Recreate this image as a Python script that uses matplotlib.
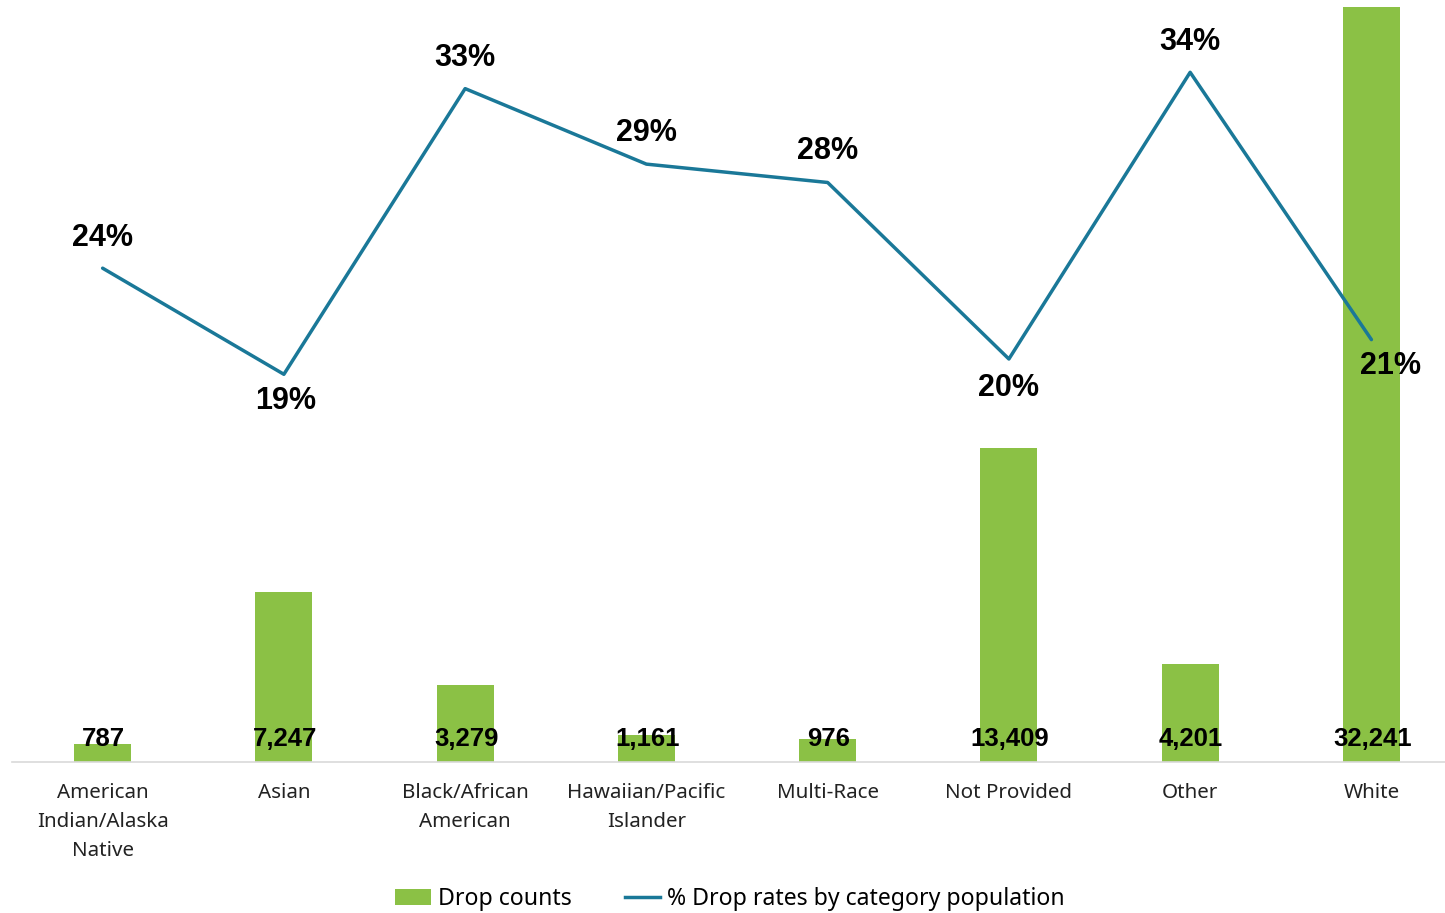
import matplotlib.pyplot as plt
from matplotlib.patches import Patch
from matplotlib.lines import Line2D

categories = ["American\nIndian/Alaska\nNative", "Asian", "Black/African\nAmerican",
              "Hawaiian/Pacific\nIslander", "Multi-Race", "Not Provided", "Other", "White"]
drop_counts = [787, 7247, 3279, 1161, 976, 13409, 4201, 32241]
drop_rates = [0.242, 0.190, 0.330, 0.293, 0.284, 0.1975, 0.338, 0.207]

GREEN = "#8BC145"
BLUE = "#1A7898"
W, H = 1445, 913

fig = plt.figure(figsize=(W / 100, H / 100), dpi=100)
ax = fig.add_axes([12 / W, (H - 762) / H, (W - 12) / W, (762 - 7) / H])
ax2 = ax.twinx()

x = list(range(len(categories)))
ax.bar(x, drop_counts, width=0.314, color=GREEN, zorder=2)
ax.set_xlim(-0.5, 7.406)
ax.set_ylim(0, 32241)
ax2.set_ylim(0, 0.37)

ax2.plot(x, drop_rates, color=BLUE, lw=2.5, solid_capstyle="round", zorder=3)

for s in ["top", "right", "left"]:
    ax.spines[s].set_visible(False)
    ax2.spines[s].set_visible(False)
ax2.spines["bottom"].set_visible(False)
ax.spines["bottom"].set_color("#D9D9D9")
ax.spines["bottom"].set_linewidth(1.2)
ax.set_yticks([])
ax2.set_yticks([])
ax.set_xticks(x)
ax.set_xticklabels(categories, fontsize=14.8, family="Noto Sans", color="#222222",
                   linespacing=1.62)
ax.tick_params(axis="x", length=0, pad=15)

for i, v in enumerate(drop_counts):
    ax.annotate(f"{v:,}", (i, 0), xytext=(1, 23), textcoords="offset pixels",
                ha="center", va="center", fontsize=18.5, fontweight="bold",
                family="Liberation Sans", color="black", zorder=4)

offsets = [(0, 30), (2, -27), (0, 31), (0, 31), (0, 31), (0, -29), (0, 30), (19, -26)]
for i, (v, off) in enumerate(zip(drop_rates, offsets)):
    ax2.annotate(f"{round(v * 100):.0f}%", (i, v), xytext=off, textcoords="offset pixels",
                 ha="center", va="center", fontsize=22, fontweight="bold",
                 family="Liberation Sans", color="black", zorder=5)

handles = [Patch(facecolor=GREEN, edgecolor="none"),
           Line2D([0], [0], color=BLUE, lw=2.5)]
fig.legend(handles, ["Drop counts", "% Drop rates by category population"],
           loc="center", bbox_to_anchor=(730 / W, 1 - 899 / H), ncol=2, frameon=False,
           prop={"family": "Noto Sans", "size": 16.6}, handlelength=1.55,
           handletextpad=0.3, columnspacing=2.3, handleheight=0.7)

fig.savefig("out.png", dpi=100)
